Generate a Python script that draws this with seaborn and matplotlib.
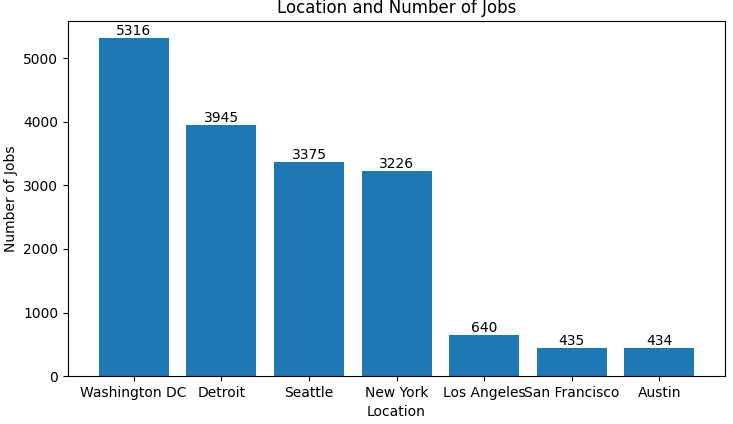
import matplotlib
matplotlib.use("Agg")
import pandas as pd
import seaborn as sns
import matplotlib.pyplot as plt

# Data
locations = ["Washington DC", "Detroit", "Seattle", "New York",
             "Los Angeles", "San Francisco", "Austin"]
job_counts = [5316, 3945, 3375, 3226, 640, 435, 434]

df = pd.DataFrame({"Location": locations, "Number of Jobs": job_counts})

fig = plt.figure(figsize=(7.33, 4.24), dpi=100)
ax = fig.add_axes([0.0928, 0.113, 0.8964, 0.837])

sns.barplot(data=df, x="Location", y="Number of Jobs", color="#1f77b4",
            saturation=1, width=0.8, ax=ax)

for c in ax.containers:
    ax.bar_label(c, fmt="%d", fontsize=10)

ax.set_title("Location and Number of Jobs", fontsize=12)
ax.set_xlabel("Location")
ax.set_ylabel("Number of Jobs")
ax.set_ylim(0, 5582)
ax.set_xlim(-0.75, 6.75)

fig.savefig("out.png", dpi=100)
